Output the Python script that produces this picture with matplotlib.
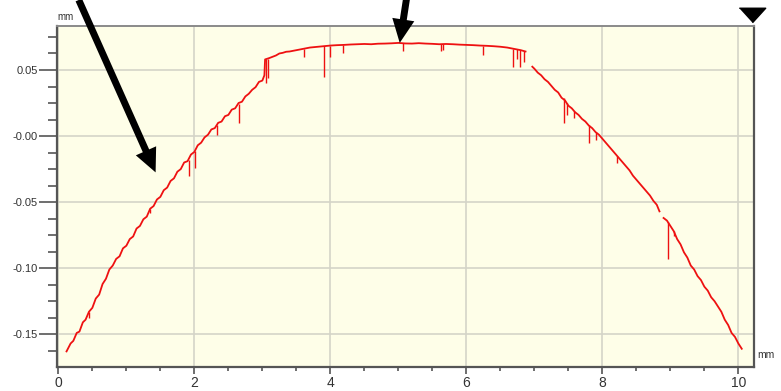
import numpy as np
import matplotlib.pyplot as plt
from matplotlib.ticker import FixedLocator, MultipleLocator, FixedFormatter

plt.rcParams["font.family"] = ["Liberation Sans", "DejaVu Sans"]

# surface profile (mm), NaN marks dropouts in the trace
profile_x = [
    0.12, 0.18, 0.22, 0.27, 0.31, 0.36, 0.40, 0.45, 0.50, 0.55, 0.60, 0.65, 0.70,
    0.75, 0.80, 0.85, 0.90, 0.95, 1.00, 1.05, 1.10, 1.15, 1.20, 1.25, 1.30, 1.35,
    1.40, 1.45, 1.50, 1.55, 1.60, 1.65, 1.70, 1.75, 1.80, 1.85, 1.90, 1.95, 2.00,
    2.05, 2.10, 2.15, 2.20, 2.25, 2.30, 2.35, 2.40, 2.45, 2.50, 2.55, 2.60, 2.65,
    2.70, 2.75, 2.80, 2.85, 2.90, 2.95, 3.00, 3.03, 3.04, 3.10, 3.15, 3.20, 3.25,
    3.30, 3.35, 3.40, 3.50, 3.60, 3.70, 3.80, 3.90, 4.00, 4.10, 4.20, 4.30, 4.40,
    4.50, 4.60, 4.70, 4.80, 4.90, 5.00, 5.10, 5.20, 5.30, 5.40, 5.50, 5.60, 5.70,
    5.80, 5.90, 6.00, 6.10, 6.20, 6.30, 6.40, 6.50, 6.60, 6.70, 6.80, 6.87, 6.92,
    6.97, 7.00, 7.05, 7.10, 7.15, 7.20, 7.25, 7.30, 7.35, 7.40, 7.45, 7.50, 7.55,
    7.60, 7.65, 7.70, 7.75, 7.80, 7.85, 7.90, 7.95, 8.00, 8.05, 8.10, 8.15, 8.20,
    8.25, 8.30, 8.35, 8.40, 8.45, 8.50, 8.55, 8.60, 8.65, 8.70, 8.75, 8.80, 8.84,
    8.87, 8.90, 8.95, 9.00, 9.05, 9.10, 9.15, 9.20, 9.25, 9.30, 9.35, 9.40, 9.45,
    9.50, 9.55, 9.60, 9.65, 9.70, 9.75, 9.80, 9.85, 9.90, 9.95, 10.00, 10.05,
]
profile_y = [
    -0.163, -0.157, -0.155, -0.149, -0.148, -0.141, -0.139, -0.133, -0.130, -0.123,
    -0.120, -0.112, -0.108, -0.101, -0.098, -0.093, -0.091, -0.085, -0.083, -0.078,
    -0.076, -0.070, -0.068, -0.063, -0.061, -0.055, -0.053, -0.048, -0.046, -0.041,
    -0.039, -0.034, -0.032, -0.027, -0.025, -0.020, -0.019, -0.014, -0.012, -0.007,
    -0.005, -0.001, 0.001, 0.005, 0.006, 0.010, 0.011, 0.015, 0.016, 0.020,
    0.021, 0.025, 0.026, 0.030, 0.032, 0.035, 0.037, 0.041, 0.042, 0.046,
    0.058, 0.059, 0.060, 0.061, 0.0625, 0.063, 0.0638, 0.064, 0.065, 0.066,
    0.067, 0.0675, 0.068, 0.0685, 0.0688, 0.069, 0.0693, 0.0695, 0.0697, 0.0695,
    0.0699, 0.070, 0.0702, 0.0705, 0.0701, 0.070, 0.0703, 0.070, 0.0698, 0.0695,
    0.0697, 0.0695, 0.0692, 0.069, 0.0688, 0.0685, 0.0683, 0.068, 0.0676, 0.067,
    0.066, 0.065, 0.064, np.nan, 0.0525, 0.051, 0.048, 0.046, 0.043, 0.041,
    0.038, 0.035, 0.033, 0.029, 0.027, 0.023, 0.021, 0.018, 0.016, 0.013,
    0.011, 0.008, 0.006, 0.003, 0.001, -0.002, -0.005, -0.008, -0.011, -0.014,
    -0.017, -0.020, -0.023, -0.026, -0.030, -0.033, -0.036, -0.039, -0.042, -0.045,
    -0.049, -0.052, -0.057, np.nan, -0.062, -0.064, -0.068, -0.072, -0.078, -0.082,
    -0.088, -0.092, -0.098, -0.101, -0.106, -0.109, -0.114, -0.117, -0.122, -0.125,
    -0.129, -0.133, -0.139, -0.143, -0.149, -0.152, -0.157, -0.161,
]

# narrow downward spikes in the trace
spike_x = [0.45, 1.35, 1.92, 2.01, 2.33, 2.65, 3.05, 3.08, 3.61, 3.91, 4.00, 4.19,
           5.07, 5.62, 5.66, 6.25, 6.69, 6.74, 6.79, 6.85, 7.43, 7.48, 7.58, 7.81,
           7.90, 8.22, 8.96, 9.05]
spike_top = [-0.133, -0.055, -0.018, -0.011, 0.008, 0.024, 0.058, 0.058, 0.066,
             0.068, 0.0685, 0.069, 0.0705, 0.0695, 0.0695, 0.0685, 0.066, 0.066,
             0.065, 0.064, 0.029, 0.025, 0.019, 0.008, 0.003, -0.015, -0.065, -0.072]
spike_bottom = [-0.138, -0.058, -0.030, -0.024, 0.001, 0.010, 0.040, 0.044, 0.060,
                0.045, 0.060, 0.063, 0.064, 0.064, 0.065, 0.061, 0.0525, 0.058,
                0.0525, 0.056, 0.0096, 0.016, 0.0134, -0.0055, -0.003, -0.0207,
                -0.0927, -0.076]

x_major = [0, 2, 4, 6, 8, 10]
y_major = [0.05, 0.0, -0.05, -0.10, -0.15]
y_labels = ["0.05", "-0.00", "-0.05", "-0.10", "-0.15"]

W, H = 781, 391
fig = plt.figure(figsize=(W / 100, H / 100), dpi=100)
ax = fig.add_axes([57 / W, 24 / H, 697 / W, 341 / H])
ax.set_facecolor("#fefee8")

ax.plot(profile_x, profile_y, color="#ee1111", lw=1.3, zorder=3)
ax.vlines(spike_x, spike_bottom, spike_top, color="#ee1111", lw=1.0, zorder=3)

ax.set_xlim(-0.02, 10.23)
ax.set_ylim(-0.1748, 0.0833)

ax.xaxis.set_major_locator(FixedLocator(x_major))
ax.xaxis.set_minor_locator(MultipleLocator(0.5))
ax.yaxis.set_major_locator(FixedLocator(y_major))
ax.yaxis.set_major_formatter(FixedFormatter(y_labels))
ax.yaxis.set_minor_locator(MultipleLocator(0.0125))

ax.grid(True, which="major", color="#d4d4c8", lw=1.2, zorder=0)
ax.tick_params(axis="y", which="major", length=13, width=1.2, color="#555555",
               labelsize=8, labelcolor="#333333", pad=1)
ax.tick_params(axis="y", which="minor", length=6.5, width=1.2, color="#555555")
ax.tick_params(axis="x", which="major", length=5, width=1.2, color="#555555",
               labelsize=10, labelcolor="#333333", pad=1.5)
ax.tick_params(axis="x", which="minor", length=3, width=1.2, color="#555555")

for side in ["left", "bottom", "right"]:
    ax.spines[side].set_color("#555555")
    ax.spines[side].set_linewidth(1.6)
ax.spines["top"].set_color("#8a8a8a")
ax.spines["top"].set_linewidth(1.4)

# unit labels
ax.text(0.0, 1.012, "mm", transform=ax.transAxes, fontsize=7, color="#333333",
        ha="left", va="bottom")
ax.text(1.005, 0.02, "mm", transform=ax.transAxes, fontsize=7.5, color="#333333",
        ha="left", va="bottom")

# cursor marker above the plot
tri = [(-1, 0.55), (1, 0.55), (0, -0.55)]
ax.plot([0.997], [1.032], marker=tri, ms=19, color="black", transform=ax.transAxes,
        clip_on=False, zorder=5)

# pointer arrows
arrow_style = dict(width=5, headwidth=16, headlength=17, facecolor="black",
                   edgecolor="none", shrink=0.0)
ax.annotate("", xy=(1.43, -0.0275), xytext=(0.30, 0.103), xycoords="data",
            textcoords="data", arrowprops=arrow_style, annotation_clip=False)
ax.annotate("", xy=(5.02, 0.0705), xytext=(5.12, 0.104), xycoords="data",
            textcoords="data", arrowprops=arrow_style, annotation_clip=False)

fig.savefig("out.png", dpi=100)
